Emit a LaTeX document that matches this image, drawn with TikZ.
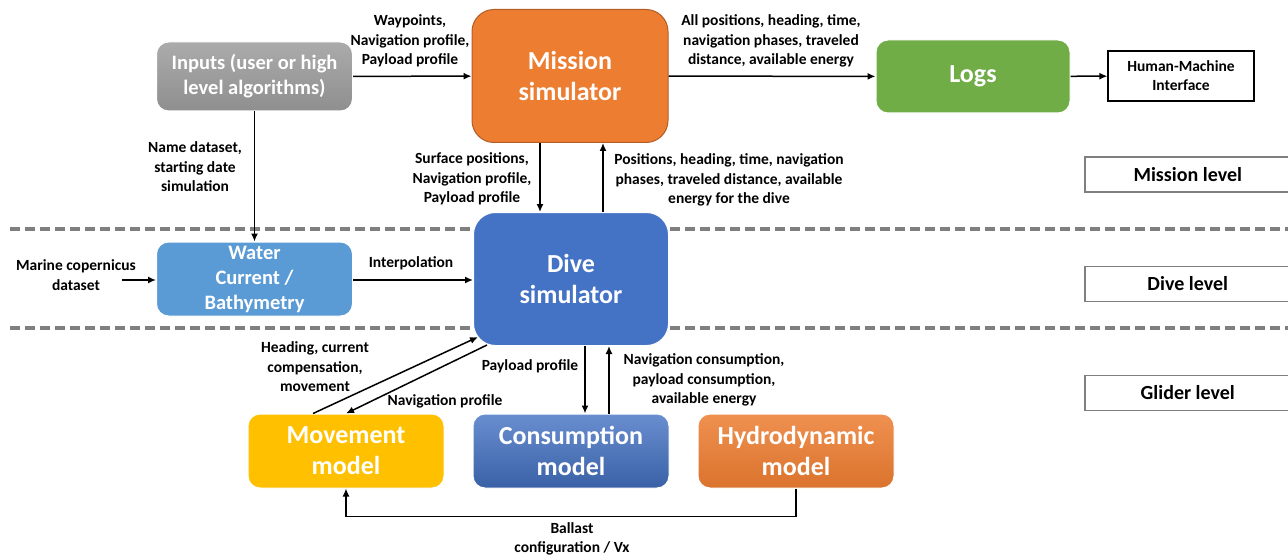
\documentclass[tikz,border=0pt]{standalone}
\usepackage{fontspec}
\setmainfont{Carlito}
\usetikzlibrary{arrows.meta}
\definecolor{missionorange}{HTML}{ED7D31}
\definecolor{logsgreen}{HTML}{70AD47}
\definecolor{waterblue}{HTML}{5B9BD5}
\definecolor{diveblue}{HTML}{4472C4}
\definecolor{moveyellow}{HTML}{FFC000}
\definecolor{levelgray}{HTML}{7F7F7F}
\begin{document}
\begin{tikzpicture}[x=1pt,y=-1pt,
  box/.style={rounded corners=12pt,draw=white,line width=1pt,text=white,align=center,
    font=\fontsize{26}{31}\selectfont\bfseries,minimum width=196pt,minimum height=74pt,inner sep=0pt},
  bigbox/.style={box,rounded corners=22pt,minimum height=133pt},
  lbl/.style={align=center,font=\fontsize{15.5}{19.5}\selectfont\bfseries,inner sep=0pt},
  levelbox/.style={draw=levelgray,line width=1.5pt,minimum width=206pt,minimum height=35pt,
    font=\fontsize{20}{22}\selectfont\bfseries,inner sep=0pt},
  arr/.style={-{Latex[length=8pt,width=7pt]},line width=1.5pt}]
	    \useasboundingbox (0,0) rectangle (1288,559);
	    % level separators
	    \draw[levelgray,line width=4pt,dash pattern=on 10pt off 5pt] (10,229) -- (1288,229);
	    \draw[levelgray,line width=4pt,dash pattern=on 10pt off 5pt] (10,328) -- (1288,328);
	    
	    \node[box,top color=black!33,bottom color=black!44,font=\fontsize{20.5}{25}\selectfont\bfseries,minimum height=69pt] (inputs) at (254.5,76.5) {Inputs (user or high\\level algorithms)};
	    \node[bigbox,fill=missionorange,draw=missionorange!75!black] (mission) at (570,76) {Mission\\simulator};
	    \node[box,fill=logsgreen,minimum width=194pt,minimum height=73pt] (logs) at (973,76.5) {Logs};
	    \node[draw,line width=1.2pt,minimum width=146pt,minimum height=50pt,inner sep=0pt,align=center,font=\fontsize{15.5}{19}\selectfont\bfseries] (hmi) at (1181,76) {Human-Machine\\Interface};
	    \node[box,fill=waterblue,font=\fontsize{20.5}{25}\selectfont\bfseries] (water) at (254.5,279) {Water\\Current /\\Bathymetry};
	    \node[bigbox,fill=diveblue,minimum width=195pt] (dive) at (571,279) {Dive\\simulator};
	    \node[box,fill=moveyellow] (movement) at (346,451) {Movement\\model};
	    \node[box,top color=diveblue!80!white,bottom color=diveblue!85!black] (consumption) at (571,451) {Consumption\\model};
	    \node[box,top color=missionorange!85!white,bottom color=missionorange!92!black] (hydro) at (796,451) {Hydrodynamic\\model};
	    
	    \node[levelbox,anchor=west] (missionlvl) at (1084,174.5) {Mission level};
	    \node[levelbox,anchor=west] (divelvl) at (1084,284) {Dive level};
	    \node[levelbox,anchor=west] (gliderlvl) at (1084,393) {Glider level};
	    
	    \node[lbl] (marine) at (76,275) {Marine copernicus\\dataset};
	    \coordinate (copernicus) at (122,280);
	    
	    \draw[arr] (inputs) -- (mission);
	    \draw[arr] (mission) -- (logs);
	    \draw[arr] (logs) -- (hmi);
	    \draw[arr] (inputs.south) -- (water.north);
	    \draw[arr] (copernicus) -- (copernicus -| water.west);
	    \draw[arr] (water.east |- copernicus) -- (dive.west |- copernicus);
	    \draw[arr] ([xshift=-31pt]dive.north |- mission.south) -- ([xshift=-31pt]dive.north);
	    \draw[arr] ([xshift=32pt]dive.north) -- ([xshift=32pt]dive.north |- mission.south);
	    \draw[arr] ([xshift=-33pt]movement.north) -- ([xshift=5pt,yshift=9pt]dive.south west);
	    \draw[arr] ([xshift=14pt,yshift=1pt]dive.south west) -- (movement.north);
	    \draw[arr] ([xshift=14pt]dive.south) -- ([xshift=14pt]dive.south |- consumption.north);
	    \draw[arr] ([xshift=38pt]dive.south |- consumption.north) -- ([xshift=38pt]dive.south);
	    \draw[arr] (hydro.south) -- ++(0,28) -| (movement.south);
	    
	    \node[lbl] (waypoints) at (410,41) {Waypoints,\\Navigation profile,\\Payload profile};
	    \node[lbl] (allpos) at (771,41) {All positions, heading, time,\\navigation phases, traveled\\distance, available energy};
	    \node[lbl] (namedata) at (195,167) {Name dataset,\\starting date\\simulation};
	    \node[lbl] (surface) at (472,179) {Surface positions,\\Navigation profile,\\Payload profile};
	    \node[lbl] (positions) at (729,180) {Positions, heading, time, navigation\\phases, traveled distance, available\\energy for the dive};
	    \node[lbl] (interp) at (411,263) {Interpolation};
	    \node[lbl] (heading) at (315,367) {Heading, current\\compensation,\\movement};
	    \node[lbl] (navprof) at (445,401) {Navigation profile};
	    \node[lbl] (payload) at (530,366) {Payload profile};
	    \node[lbl] (navcons) at (704,380) {Navigation consumption,\\payload consumption,\\available energy};
	    \node[lbl] (ballast) at (572,539) {Ballast\\configuration / Vx};
	\end{tikzpicture}
\end{document}
